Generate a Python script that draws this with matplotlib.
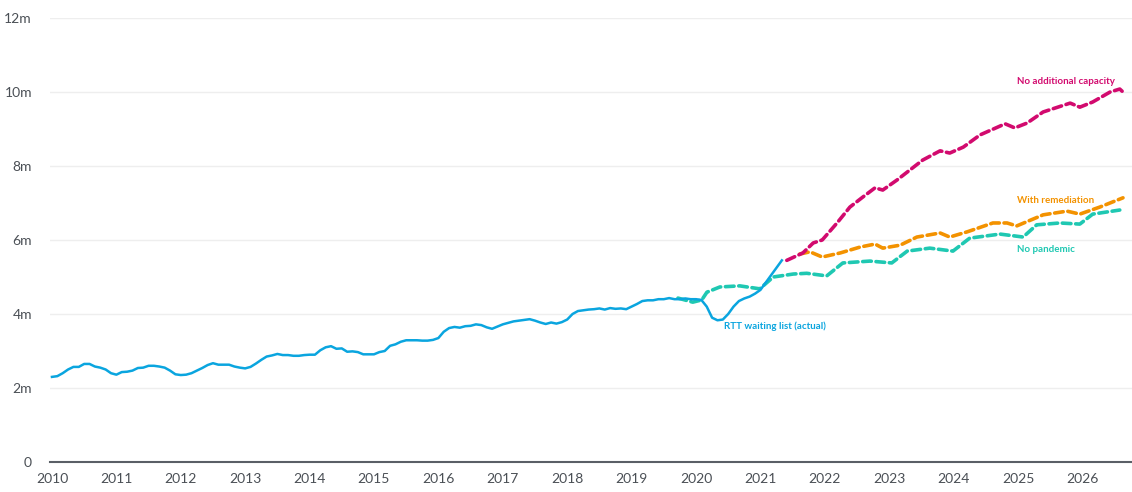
import numpy as np
import matplotlib
matplotlib.use("Agg")
import matplotlib.pyplot as plt

plt.rcParams['font.family'] = ['Lato', 'DejaVu Sans']

# RTT waiting list (actual), monthly Jan 2010 - May 2021, millions
actual = [
    2.30, 2.32, 2.40, 2.50, 2.57, 2.57, 2.65, 2.65, 2.58, 2.55, 2.50, 2.40,
    2.36, 2.43, 2.44, 2.47, 2.54, 2.55, 2.60, 2.60, 2.58, 2.55, 2.47, 2.37,
    2.35, 2.36, 2.40, 2.47, 2.54, 2.62, 2.67, 2.63, 2.63, 2.63, 2.58, 2.55,
    2.53, 2.57, 2.66, 2.76, 2.85, 2.88, 2.92, 2.89, 2.89, 2.87, 2.87, 2.89,
    2.90, 2.90, 3.02, 3.10, 3.13, 3.06, 3.07, 2.98, 2.99, 2.97, 2.91, 2.91,
    2.91, 2.97, 3.00, 3.14, 3.18, 3.25, 3.29, 3.29, 3.29, 3.28, 3.28, 3.30,
    3.35, 3.52, 3.62, 3.65, 3.63, 3.67, 3.68, 3.72, 3.70, 3.64, 3.60, 3.66,
    3.72, 3.76, 3.80, 3.82, 3.84, 3.86, 3.82, 3.77, 3.73, 3.77, 3.74, 3.78,
    3.85, 4.00, 4.08, 4.10, 4.12, 4.13, 4.15, 4.12, 4.16, 4.14, 4.15, 4.13,
    4.20, 4.27, 4.35, 4.37, 4.37, 4.40, 4.40, 4.43, 4.40, 4.40, 4.42, 4.40,
    4.40, 4.38, 4.20, 3.90, 3.83, 3.85, 4.00, 4.20, 4.35, 4.42, 4.47, 4.55,
    4.65, 4.85, 5.05, 5.25, 5.45,
]
actual_years = 2010 + np.arange(len(actual)) / 12

# scenario projections (year, millions)
no_pandemic_years = [2019.72, 2019.95, 2020.09, 2020.17, 2020.37, 2020.68, 2020.99,
                     2021.20, 2021.51, 2021.72, 2022.03, 2022.28, 2022.70, 2023.04,
                     2023.28, 2023.63, 2023.99, 2024.25, 2024.72, 2025.08, 2025.29,
                     2025.65, 2025.96, 2026.16, 2026.58]
no_pandemic = [4.43, 4.32, 4.38, 4.59, 4.73, 4.76, 4.68,
               5.00, 5.08, 5.10, 5.03, 5.38, 5.43, 5.38,
               5.70, 5.78, 5.70, 6.05, 6.16, 6.08, 6.41,
               6.46, 6.43, 6.70, 6.81]

remediation_years = [2021.61, 2021.77, 2021.96, 2022.24, 2022.55, 2022.78, 2022.90,
                     2023.17, 2023.43, 2023.79, 2023.94, 2024.21, 2024.61, 2024.83,
                     2024.98, 2025.39, 2025.76, 2025.96, 2026.27, 2026.63]
remediation = [5.62, 5.68, 5.54, 5.65, 5.81, 5.89, 5.78,
               5.86, 6.08, 6.19, 6.08, 6.22, 6.46, 6.46,
               6.38, 6.68, 6.78, 6.70, 6.89, 7.14]

no_capacity_years = [2021.41, 2021.66, 2021.82, 2021.96, 2022.19, 2022.39, 2022.59,
                     2022.78, 2022.90, 2023.12, 2023.32, 2023.52, 2023.79, 2023.94,
                     2024.15, 2024.41, 2024.80, 2024.95, 2025.14, 2025.39, 2025.81,
                     2025.96, 2026.16, 2026.43, 2026.58, 2026.63]
no_capacity = [5.45, 5.65, 5.92, 6.00, 6.46, 6.89, 7.16,
               7.41, 7.35, 7.62, 7.89, 8.16, 8.41, 8.35,
               8.51, 8.84, 9.14, 9.03, 9.16, 9.46, 9.70,
               9.59, 9.73, 10.00, 10.08, 10.00]

y_ticks = [0, 2, 4, 6, 8, 10, 12]
y_labels = ['0', '2m', '4m', '6m', '8m', '10m', '12m']
x_ticks = list(range(2010, 2027))

blue = '#0aa5df'
teal = '#1fc8b2'
orange = '#f39200'
magenta = '#d20a6e'

fig = plt.figure(figsize=(11.32, 4.92), dpi=100)
ax = fig.add_axes([0.0442, 0.061, 0.9558, 0.9024])

dash = dict(linewidth=2.6, linestyle=(0, (2.4, 1.3)), dash_capstyle='round')
ax.plot(no_pandemic_years, no_pandemic, color=teal, zorder=3, **dash)
ax.plot(remediation_years, remediation, color=orange, zorder=3, **dash)
ax.plot(no_capacity_years, no_capacity, color=magenta, zorder=3, **dash)
ax.plot(actual_years, actual, color=blue, linewidth=1.8, zorder=4)

ax.set_xlim(2009.97, 2026.77)
ax.set_ylim(0, 12)
ax.set_yticks(y_ticks)
ax.set_yticklabels(y_labels)
ax.set_xticks(x_ticks)
ax.set_xticklabels([str(y) for y in x_ticks])
ax.grid(axis='y', color='#eeeeee', linewidth=1)
ax.set_axisbelow(True)
for s in ['top', 'right', 'left']:
    ax.spines[s].set_visible(False)
ax.spines['bottom'].set_color('#5a5f66')
ax.spines['bottom'].set_linewidth(1.5)
ax.tick_params(axis='both', length=0, labelsize=10, colors='#4a4f55')
ax.tick_params(axis='y', pad=13)
ax.tick_params(axis='x', pad=8)

lbl = dict(fontsize=7, fontweight='bold')
ax.text(2024.98, 10.22, 'No additional capacity', color=magenta, **lbl)
ax.text(2024.98, 7.0, 'With remediation', color=orange, **lbl)
ax.text(2024.98, 5.68, 'No pandemic', color=teal, **lbl)
ax.text(2020.43, 3.6, 'RTT waiting list (actual)', color=blue, **lbl)

fig.savefig('out.png', dpi=100)
